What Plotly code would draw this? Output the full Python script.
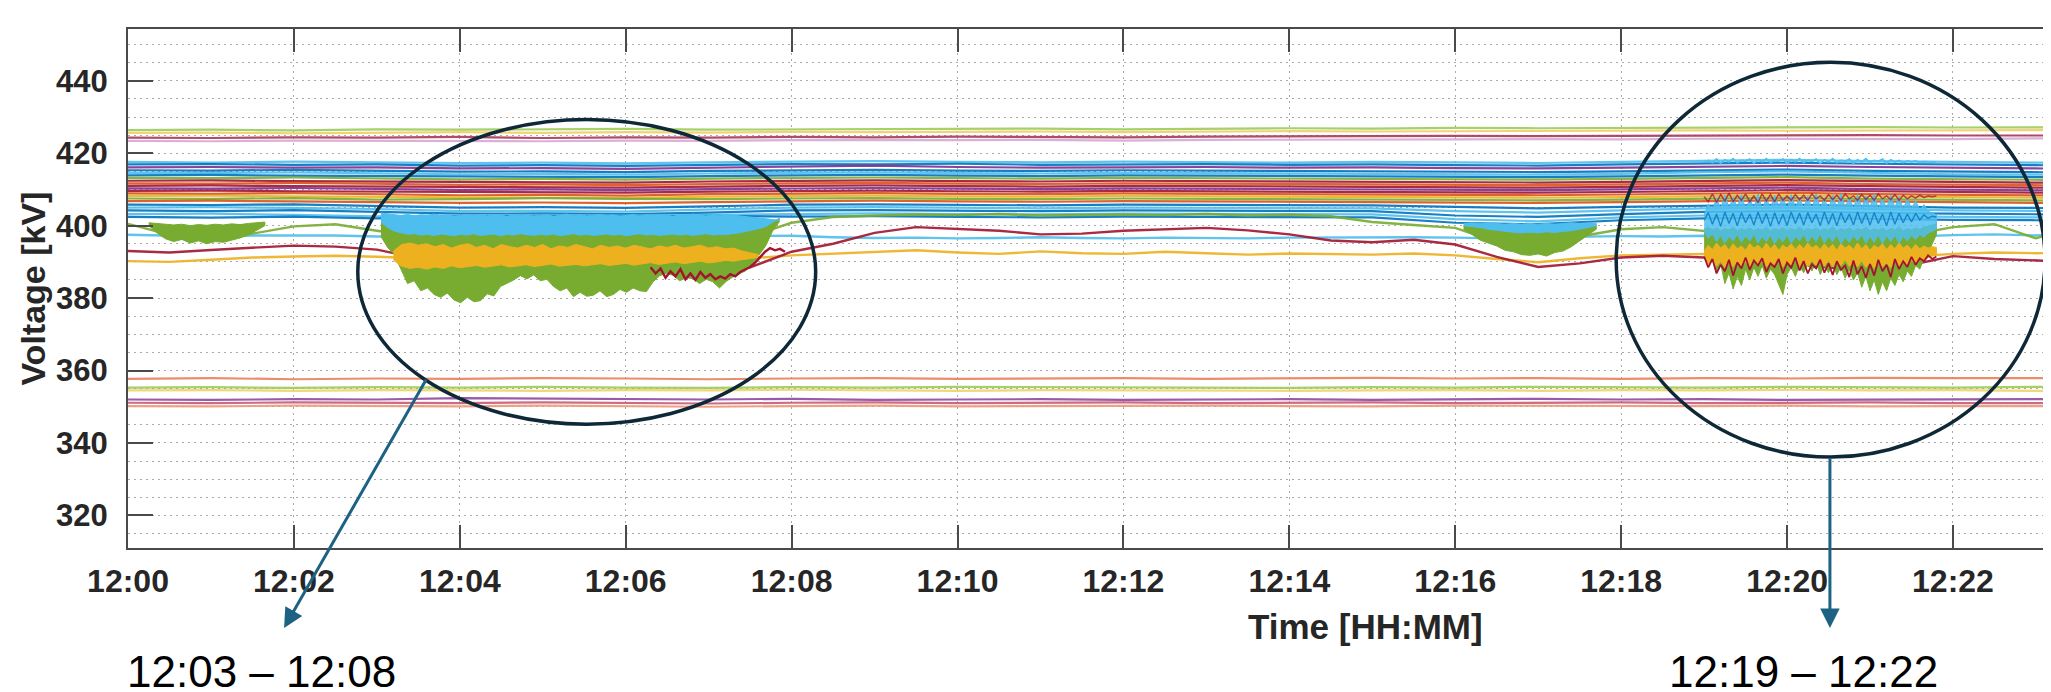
import datetime as dt
import plotly.graph_objects as go

# ---------------- data (minutes after 12:00, kV) ----------------
T1 = list(range(25))                      # 1-minute grid 0..24
T2 = [i * 0.5 for i in range(48)]         # 30-second grid 0..23.5

TOP_GREEN = [426.4,426.5,426.3,426.6,426.5,426.6,426.7,426.5,426.6,426.8,426.7,426.8,426.6,426.8,426.9,426.8,427.0,426.9,427.0,427.1,427.0,427.2,427.1,427.2,427.2]
TOP_YELLOW = [425.6,425.7,425.5,425.7,425.8,425.6,425.8,425.7,425.9,425.8,425.9,426.0,425.8,426.0,426.1,426.0,426.1,426.2,426.1,426.3,426.2,426.3,426.2,426.4,426.3]
TOP_RED = [424.3,424.2,424.4,424.3,424.5,424.2,424.4,424.3,424.5,424.4,424.6,424.5,424.4,424.6,424.7,424.6,424.8,424.7,424.8,424.9,424.8,425.0,424.9,425.0,424.9]
TOP_PINK = [423.4,423.3,423.5,423.4,423.5,423.3,423.5,423.4,423.6,423.5,423.6,423.7,423.5,423.7,423.8,423.7,423.8,423.9,423.8,424.0,423.9,424.0,423.9,424.1,424.0]

BOT_ORANGE_HI = [357.7,357.9,357.6,357.8,357.7,357.9,357.8,357.6,357.8,357.9,357.7,357.8,357.9,357.7,357.8,358.0,357.8,357.9,357.7,357.9,357.8,358.0,357.9,357.8,357.9]
BOT_GREEN = [355.3,355.4,355.2,355.4,355.3,355.5,355.3,355.2,355.4,355.3,355.5,355.4,355.3,355.4,355.2,355.4,355.3,355.5,355.4,355.3,355.5,355.4,355.3,355.5,355.4]
BOT_YELLOW = [354.5,354.6,354.4,354.6,354.5,354.4,354.6,354.5,354.7,354.5,354.4,354.6,354.5,354.6,354.4,354.5,354.6,354.4,354.6,354.5,354.7,354.5,354.6,354.4,354.5]
BOT_PURPLE = [352.0,351.9,352.1,352.0,352.4,352.3,352.1,352.0,352.2,351.9,352.0,352.1,351.9,352.0,352.1,351.9,352.0,352.2,352.0,352.1,351.9,352.0,352.2,352.1,352.0]
BOT_RED = [351.1,351.0,351.2,351.1,351.0,351.2,351.1,350.9,351.1,351.2,351.0,351.1,351.2,351.0,351.1,351.2,351.0,351.1,351.2,351.0,351.1,351.2,351.0,351.1,351.0]
BOT_ORANGE_LO = [350.2,350.1,350.3,350.2,350.1,350.3,350.2,350.0,350.2,350.3,350.1,350.2,350.1,350.3,350.2,350.1,350.3,350.2,350.1,350.2,350.3,350.1,350.2,350.1,350.2]

B01 = [417.6,417.4,417.7,417.5,417.3,417.4,417.2,417.5,417.6,417.8,417.6,417.5,417.7,417.6,417.4,417.6,417.5,417.3,417.6,417.9,418.2,417.8,417.5,417.4,417.3]
B02 = [416.9,417.0,416.8,416.9,416.6,416.7,416.5,416.8,417.0,416.9,417.1,416.8,416.9,417.0,416.8,416.9,416.7,416.6,416.9,417.2,417.4,417.1,416.8,416.7,416.5]
B03 = [416.1,416.2,416.0,416.1,415.8,415.9,415.7,416.0,416.3,416.6,416.2,416.0,416.1,416.2,416.0,416.1,415.9,415.8,416.0,416.3,416.5,416.2,415.9,415.8,415.6]
B04 = [415.3,415.2,415.4,415.1,414.9,415.0,414.8,415.1,415.3,415.4,415.2,415.1,415.3,415.2,415.0,415.1,414.9,414.8,415.0,415.3,415.5,415.1,414.9,414.8,414.6]
B05 = [414.6,414.5,414.7,414.4,414.2,414.3,414.1,414.4,414.6,414.7,414.5,414.4,414.6,414.5,414.3,414.4,414.2,414.1,414.3,414.8,415.0,414.5,414.2,414.1,413.9]
B06 = [413.9,414.0,413.8,413.7,413.5,413.6,413.4,413.7,413.9,414.0,413.8,413.7,413.9,413.8,413.6,413.7,413.5,413.4,413.6,413.9,414.1,413.8,413.5,413.4,413.2]
B07 = [413.2,413.1,413.3,413.0,412.8,412.9,412.7,413.0,413.2,413.3,413.1,413.0,413.2,413.1,412.9,413.0,412.8,412.7,412.9,413.2,413.4,413.0,412.8,412.7,412.5]
B08 = [412.4,412.5,412.3,412.2,412.0,412.1,411.9,412.2,412.4,412.5,412.3,412.2,412.4,412.3,412.1,412.2,412.0,411.9,412.1,412.4,412.6,412.3,412.0,411.9,411.7]
B09 = [411.7,411.6,411.8,411.5,411.3,411.4,411.2,411.5,411.7,411.8,411.6,411.5,411.7,411.6,411.4,411.5,411.3,411.2,411.4,411.7,411.9,411.5,411.3,411.2,411.0]
B10 = [411.0,411.1,410.9,410.8,410.6,410.7,410.5,410.8,411.0,411.1,410.9,410.8,411.0,410.9,410.7,410.8,410.6,410.5,410.7,411.0,411.2,410.9,410.6,410.5,410.3]
B11 = [410.3,410.2,410.4,410.1,409.9,410.0,409.8,410.1,410.3,410.4,410.2,410.1,410.3,410.2,410.0,410.1,409.9,409.8,410.0,410.3,410.5,410.1,409.9,409.8,409.6]
B12 = [409.6,409.7,409.5,409.4,409.2,409.3,409.1,409.4,409.6,409.7,409.5,409.4,409.6,409.5,409.3,409.4,409.2,409.1,409.3,409.6,409.8,409.5,409.2,409.1,408.9]
B13 = [408.9,408.8,409.0,408.7,408.4,408.5,408.3,408.7,408.9,409.0,408.8,408.7,408.9,408.8,408.6,408.7,408.5,408.4,408.6,408.9,409.1,408.7,408.5,408.4,408.2]
B14 = [408.2,408.3,408.1,408.0,407.7,407.8,407.6,408.0,408.2,408.3,408.1,408.0,408.2,408.1,407.9,408.0,407.8,407.7,407.9,408.2,408.4,408.1,407.8,407.7,407.5]
B15 = [407.5,407.4,407.6,407.2,407.3,407.6,407.4,407.3,407.5,407.6,407.4,407.3,407.5,407.4,407.2,407.3,407.1,407.0,407.2,407.5,407.7,407.3,407.1,407.0,406.8]
B16 = [406.8,406.9,406.7,406.5,406.3,406.4,406.2,406.5,406.8,406.9,406.7,406.6,406.8,406.7,406.5,406.6,406.4,406.3,406.5,406.8,407.0,406.7,406.4,406.3,406.1]
B17 = [405.8,405.7,405.9,405.5,405.0,405.1,404.9,405.3,405.8,405.9,405.7,405.6,405.8,405.7,405.5,405.6,405.2,404.8,405.2,405.6,405.8,405.4,405.0,404.9,404.7]
B18 = [405.0,405.1,404.9,404.6,404.0,404.1,403.9,404.4,405.0,405.1,404.9,404.8,405.0,404.9,404.7,404.8,404.0,403.6,404.2,404.8,405.0,404.6,404.2,404.1,403.9]
B19 = [404.2,404.0,404.3,403.8,403.3,403.4,403.2,403.6,404.2,404.3,404.1,404.0,404.2,404.1,403.9,404.0,402.8,402.4,403.2,403.8,404.0,403.5,403.3,403.2,403.0]
B20 = [403.2,403.3,403.0,402.6,402.8,403.0,402.8,403.0,403.3,403.4,403.2,403.1,403.3,403.2,403.0,403.1,401.8,401.2,402.3,402.8,403.0,402.6,402.4,402.3,402.1]
B21 = [402.4,402.2,402.5,402.0,402.6,402.7,402.5,402.7,402.5,402.6,402.4,402.3,402.5,402.4,402.2,402.3,400.8,400.4,401.5,402.0,402.2,401.8,401.6,401.5,401.3]

RED_LOW = [393.0,392.6,393.3,393.9,394.5,394.2,393.4,391.0,
           390.5,390.5,390.0,390.0,389.5,388.0,387.0,388.5,
           392.8,395.0,398.0,399.6,399.2,398.6,397.6,397.8,
           398.6,398.9,399.4,398.7,397.6,395.9,395.4,396.1,
           394.8,391.4,388.6,389.6,391.2,391.7,391.2,388.6,
           389.4,388.4,387.6,389.2,391.6,390.8,390.3,390.0]
YELLOW_LOW = [390.2,390.0,390.6,391.2,391.5,391.7,391.4,391.0,
              391.0,391.0,391.0,391.0,391.0,391.0,391.0,391.0,
              391.8,392.2,392.6,393.2,392.6,392.2,392.9,392.4,
              392.2,392.8,392.4,392.0,392.3,392.2,392.0,392.3,
              391.8,390.8,389.9,391.0,391.8,392.0,392.2,391.5,
              391.0,391.5,391.0,391.5,392.2,392.6,392.4,392.5]
CYAN_LOW = [397.5,397.2,397.0,397.3,397.4,397.3,397.0,397.0,
            397.0,397.0,397.0,397.0,397.0,397.0,397.0,397.0,
            397.2,396.8,396.6,396.7,396.5,396.6,396.8,396.6,
            396.5,396.7,396.6,396.5,396.7,396.8,396.9,396.8,
            396.7,396.5,396.8,397.0,397.1,397.0,397.2,397.0,
            397.0,397.0,397.0,397.0,397.4,397.6,397.3,397.5]
GREEN_LOW = [400.5,397.5,396.5,397.8,399.8,400.4,398.6,397.0,
             397.0,397.0,397.0,397.0,397.0,397.0,397.0,397.0,
             400.8,402.4,402.8,403.1,402.9,403.2,402.8,403.0,
             403.1,402.9,403.2,402.8,403.0,402.6,401.0,400.2,
             399.4,395.5,393.5,397.0,399.0,399.6,398.6,397.5,
             397.5,397.5,397.5,397.5,399.6,400.4,396.5,399.8]

# green lobe before the first event (0.25 .. 1.65 min, 0.1 min step)
PRE_T0, PRE_DT = 0.25, 0.1
PRE_G_HI = [400.8,400.6,400.4,400.2,400.4,400.0,400.3,400.1,400.4,400.2,400.5,400.3,400.6,400.8,401.0]
PRE_G_LO = [400.0,398.0,396.4,395.6,396.2,395.2,395.8,395.0,395.6,395.4,396.0,396.6,397.4,398.6,400.0]

# event 1 (12:03 - 12:08), 0.08 min step from 3.05
E1_T0, E1_DT = 3.05, 0.08
E1_GREEN_LO = [397.0,394.0,392.0,388.0,384.0,384.8,382.0,382.8,381.0,380.2,
               381.4,379.5,378.7,380.2,379.0,379.3,381.2,380.6,383.2,384.0,
               385.0,386.2,385.3,386.4,384.8,385.2,383.2,382.0,382.8,380.4,
               381.6,380.5,380.8,382.0,380.4,381.0,382.4,381.6,382.8,382.0,
               381.8,384.5,386.2,386.8,386.3,384.8,385.6,385.4,384.0,385.2,
               384.5,382.8,384.6,385.8,386.8,387.6,389.5,392.0,394.5,398.5,
               401.0]
E1_GREEN_HI = [401.0,399.5,398.5,398.0,397.6,397.8,397.4,397.6,397.3,397.7,
               397.5,397.2,397.6,397.4,397.8,397.3,397.5,397.7,397.2,397.6,
               397.4,397.8,397.5,397.3,397.6,397.4,397.7,397.2,397.5,397.8,
               397.4,397.6,397.3,397.5,397.7,397.4,397.6,397.2,397.5,397.8,
               397.4,397.6,397.3,397.5,397.7,397.4,397.6,397.3,397.5,397.8,
               397.4,397.6,397.5,397.8,398.0,398.3,398.8,399.2,399.8,401.0,
               402.0]
E1_CYAN_HI = [403.5,403.2,403.0,402.8,403.1,402.7,403.0,402.9,403.2,402.8,
              403.0,402.6,402.9,403.1,402.8,403.0,402.7,403.1,402.9,402.6,
              403.0,402.8,403.1,402.7,402.9,403.0,402.6,402.9,403.2,402.8,
              403.0,402.7,402.9,403.1,402.8,403.0,402.6,402.9,403.1,402.7,
              403.0,402.8,403.1,402.9,402.6,403.0,402.8,403.2,402.9,402.7,
              403.0,402.8,403.1,402.9,402.7,402.5,402.3,402.0,401.8,401.5,
              401.5]
E1_Y_T0, E1_Y_DT = 3.2, 0.1
E1_YEL_HI = [393.0,394.8,395.2,394.6,395.0,394.2,394.8,393.8,394.6,395.0,
             394.0,394.6,393.6,394.8,394.2,393.8,394.6,394.0,394.8,393.6,
             394.4,394.0,394.8,394.2,393.6,394.6,394.0,394.4,393.8,394.6,
             394.2,393.6,394.4,394.0,394.6,393.8,394.2,394.6,393.8,394.2,
             393.6,393.8,393.0,392.4,392.0]
E1_YEL_LO = [390.5,388.8,388.2,388.5,388.0,388.6,388.2,388.9,388.4,388.7,
             389.0,388.5,388.8,389.2,388.6,388.9,389.2,388.7,389.0,389.4,
             388.8,389.1,389.3,388.9,389.2,389.5,389.0,389.3,389.6,389.1,
             389.4,389.8,389.3,389.6,390.0,389.5,389.8,390.2,389.7,390.0,
             390.4,390.2,390.6,391.0,391.2]
E1_R_T0, E1_R_DT = 6.3, 0.06
E1_RED = [388.5,386.8,388.2,385.6,387.4,386.0,388.0,385.2,386.8,385.0,
          387.2,385.6,386.6,385.2,386.0,385.4,386.6,386.0,387.2,387.8,
          388.6,389.8,391.2,392.8,393.8,393.2,393.6,392.8]

# event 2a (12:16 - 12:17:40), 0.1 min step from 16.1
E2A_T0, E2A_DT = 16.1, 0.1
E2A_GREEN_HI = [400.0,399.8,399.5,399.0,398.6,398.4,398.2,398.0,398.2,398.0,398.3,398.1,398.4,398.6,399.0,399.5,400.0]
E2A_GREEN_LO = [399.0,397.6,396.0,395.2,394.4,393.2,392.8,392.0,391.8,392.2,391.6,392.6,393.0,394.2,395.6,397.4,399.0]
E2A_CYAN_HI = [400.6,400.8,400.6,400.8,400.6,400.4,400.6,400.4,400.6,400.4,400.6,400.4,400.6,400.8,400.6,400.8,400.6]

# event 2b (12:19 - 12:22), 0.05 min step from 19.0
E2B_T0, E2B_DT = 19.0, 0.05
E2B_GREEN_LO = [393.5,390.0,391.5,387.5,389.5,384.0,387.0,382.5,386.0,383.5,
                388.0,385.0,388.5,386.0,389.0,385.5,388.0,386.5,384.0,381.0,
                386.5,388.5,386.0,389.0,387.0,389.5,387.5,390.0,386.5,389.0,
                387.0,389.5,386.5,388.5,385.5,388.0,385.0,387.0,383.0,386.0,
                382.0,385.0,381.0,384.5,382.0,385.5,383.5,386.5,384.5,387.5,
                386.0,389.0,388.0,391.0,392.5,395.0,397.5]
E2B_GREEN_HI = [399.0,399.6,398.8,399.4,398.6,399.2,398.8,399.6,398.6,399.2,
                398.8,399.4,398.6,399.2,398.8,399.6,398.6,399.2,398.8,399.4,
                398.6,399.2,398.8,399.6,398.6,399.2,398.8,399.4,398.6,399.2,
                398.8,399.6,398.6,399.2,398.8,399.4,398.6,399.2,398.8,399.6,
                398.6,399.2,398.8,399.4,398.6,399.2,398.8,399.6,398.6,399.2,
                398.8,399.4,399.0,399.6,399.8,400.2,400.5]
E2B_YEL_HI = [393.0,394.6,393.4,395.2,393.8,394.8,393.2,395.0,393.6,394.4,
              393.2,395.0,393.8,394.6,393.4,395.2,393.6,394.8,393.2,394.6,
              393.8,395.0,393.4,394.8,393.6,395.2,393.8,394.6,393.4,395.0,
              393.6,394.8,393.2,395.0,393.8,394.6,393.4,395.2,393.6,394.8,
              393.2,394.6,393.8,395.0,393.4,394.8,393.6,395.2,393.8,394.6,
              393.4,394.8,393.6,394.4,393.8,394.2,394.0]
E2B_YEL_LO = [391.0,389.4,390.6,388.8,390.2,388.4,389.8,388.6,390.4,388.8,
              390.0,388.6,390.4,389.0,390.2,388.6,389.8,388.8,390.4,388.6,
              390.0,389.0,390.6,388.8,390.2,388.6,390.4,389.0,390.0,388.8,
              390.4,388.6,390.2,389.0,390.6,388.8,390.0,388.6,390.4,388.4,
              389.8,388.2,390.0,388.6,389.6,388.4,390.2,388.8,390.0,389.0,
              390.4,389.4,390.8,390.2,391.2,391.6,392.0]
E2B_RED = [391.5,388.5,390.8,386.8,389.2,387.4,390.6,386.2,389.8,388.2,
           391.2,387.8,390.4,389.0,391.0,387.2,389.6,388.6,390.8,386.8,
           389.8,388.4,391.2,387.6,390.2,386.8,389.4,388.2,390.6,387.0,
           389.6,386.4,390.2,387.8,389.0,385.8,390.4,386.6,388.8,385.6,
           389.4,386.2,390.6,387.4,389.2,385.8,390.8,388.0,390.2,388.6,
           391.4,389.2,391.0,390.2,391.8,390.8,391.5]
E2B_CYAN_HI = [403.0,406.0,404.2,407.6,404.6,408.4,404.8,407.8,405.0,408.6,
               404.6,407.4,405.0,408.8,404.4,407.6,404.8,408.4,405.2,407.8,
               404.6,408.6,405.0,407.6,404.8,408.2,404.4,408.8,405.0,407.4,
               404.6,408.4,404.8,408.8,405.0,407.8,404.6,408.6,404.8,408.2,
               405.0,408.8,404.6,407.6,404.8,408.4,405.0,408.0,404.6,407.4,
               404.8,406.8,404.4,405.8,404.0,403.6,403.0]
E2B_CYAN_LO = [398.5,396.5,397.8,395.6,397.4,395.2,397.0,395.8,397.6,395.4,
               397.2,395.8,397.6,395.2,397.0,395.6,397.4,395.0,396.8,395.6,
               397.4,395.2,397.0,395.8,397.6,395.4,397.2,395.6,397.8,395.2,
               397.0,395.6,397.4,395.0,396.8,395.4,397.2,395.8,397.6,395.2,
               397.0,395.4,397.6,395.0,397.2,395.6,397.4,395.2,397.0,395.8,
               397.4,396.2,397.6,396.8,398.0,398.4,399.0]
E2B_BLUE = [401.5,403.6,400.4,403.2,399.8,403.8,400.6,403.4,400.0,403.6,
            400.8,403.2,400.2,403.8,400.6,403.4,399.8,403.6,400.4,403.2,
            400.0,403.8,400.6,403.4,400.2,403.6,400.8,403.2,400.0,403.8,
            400.4,403.4,400.0,403.6,400.8,403.2,400.2,403.8,400.6,403.4,
            400.2,403.6,400.6,403.2,400.0,403.8,400.4,403.4,400.8,403.2,
            401.0,403.4,401.6,403.0,402.0,402.6,402.4]
E2B_TOP = [417.6,418.0,417.4,418.4,417.2,418.2,417.6,418.5,417.4,418.0,
           417.8,418.4,417.2,418.2,417.6,418.5,417.4,418.0,417.8,418.4,
           417.2,418.2,417.6,418.5,417.4,418.0,417.8,418.4,417.2,418.2,
           417.6,418.5,417.4,418.0,417.8,418.4,417.2,418.2,417.6,418.5,
           417.4,418.0,417.8,418.4,417.2,418.2,417.6,418.0,417.4,417.9,
           417.6,417.9,417.4,417.7,417.6,417.6,417.5]
E2B_PURPLE = [408.0,406.6,408.8,406.4,408.6,406.8,409.0,406.6,408.4,407.0,
              408.8,406.6,408.2,406.4,408.8,406.8,408.6,406.6,408.8,407.0,
              408.2,407.0,408.6,407.2,408.4,407.0,408.8,407.4,408.2,407.0,
              408.6,407.2,408.4,407.0,408.8,407.4,408.2,407.0,408.6,407.2,
              408.4,407.0,408.8,407.4,408.2,407.2,408.6,407.0,408.4,407.4,
              408.2,407.6,408.4,407.8,408.2,408.0,408.2]

X_TICK_STEP_MIN = 2
Y_RANGE = [311.0, 454.3]
X_END_MIN = 23.23

# ---------------- helpers ----------------
BASE = dt.datetime(2024, 1, 1, 12, 0, 0)


def at(m):
    return BASE + dt.timedelta(minutes=m)


def times(ms):
    return [at(m) for m in ms]


def grid(t0, step, n):
    return [t0 + step * i for i in range(n)]


BLUE = "#0072BD"; ORANGE = "#D95319"; YELLOW = "#EDB120"; PURPLE = "#7E2F8E"
GREEN = "#77AC30"; CYAN = "#4DBEEE"; DRED = "#A2142F"

fig = go.Figure()


def line(tm, vals, color, width=2.2, opacity=0.9):
    fig.add_trace(go.Scatter(x=times(tm), y=vals, mode="lines",
                             line=dict(color=color, width=width),
                             opacity=opacity, hoverinfo="skip"))


def band(tm, hi, lo, color, fill=None):
    xs = times(tm)
    fig.add_trace(go.Scatter(x=xs + xs[::-1], y=list(hi) + list(lo)[::-1],
                             mode="lines", fill="toself", fillcolor=fill or color,
                             line=dict(color=color, width=1),
                             hoverinfo="skip"))


# top and bottom groups
line(T1, TOP_GREEN, "#9CCB5A"); line(T1, TOP_YELLOW, "#F0CF66")
line(T1, TOP_RED, "#A8385A"); line(T1, TOP_PINK, "#D8A8D2")
line(T1, BOT_ORANGE_HI, "#E8825A"); line(T1, BOT_GREEN, "#9CCB5A")
line(T1, BOT_YELLOW, "#EFD36A"); line(T1, BOT_PURPLE, "#8E4A9E")
line(T1, BOT_RED, "#C85A78"); line(T1, BOT_ORANGE_LO, "#EE9A78")

# dense band
for vals, col in [(B01, CYAN), (B02, BLUE), (B03, PURPLE), (B04, BLUE), (B05, CYAN),
                  (B06, BLUE), (B07, GREEN), (B08, DRED), (B09, ORANGE), (B10, DRED),
                  (B11, PURPLE), (B12, DRED), (B13, ORANGE), (B14, YELLOW), (B15, GREEN),
                  (B16, ORANGE), (B17, BLUE), (B18, CYAN), (B19, BLUE), (B20, CYAN), (B21, BLUE)]:
    line(T1, vals, col)

# lower lines
line(T2, YELLOW_LOW, YELLOW, 2.4)
line(T2, CYAN_LOW, CYAN, 2.4)
line(T2, RED_LOW, DRED, 2.4)
line(T2, GREEN_LOW, GREEN, 2.4)

band(grid(PRE_T0, PRE_DT, len(PRE_G_HI)), PRE_G_HI, PRE_G_LO, GREEN)

# event 1
e1t = grid(E1_T0, E1_DT, len(E1_GREEN_LO))
band(e1t, E1_GREEN_HI, E1_GREEN_LO, GREEN)
band(grid(E1_Y_T0, E1_Y_DT, len(E1_YEL_HI)), E1_YEL_HI, E1_YEL_LO, YELLOW)
band(e1t, E1_CYAN_HI, E1_GREEN_HI, CYAN)
line(grid(E1_R_T0, E1_R_DT, len(E1_RED)), E1_RED, DRED, 2.4, 1.0)

# event 2a
e2at = grid(E2A_T0, E2A_DT, len(E2A_GREEN_HI))
band(e2at, E2A_GREEN_HI, E2A_GREEN_LO, GREEN)
band(e2at, E2A_CYAN_HI, E2A_GREEN_HI, CYAN)

# event 2b
e2bt = grid(E2B_T0, E2B_DT, len(E2B_GREEN_LO))
band(e2bt, E2B_GREEN_HI, E2B_GREEN_LO, GREEN)
band(e2bt, E2B_YEL_HI, E2B_YEL_LO, YELLOW)
line(e2bt, E2B_RED, DRED, 1.8, 1.0)
band(e2bt, E2B_CYAN_HI, E2B_CYAN_LO, CYAN, "rgba(77,190,238,0.85)")
line(e2bt, E2B_BLUE, BLUE, 1.4, 0.75)
line(e2bt, E2B_PURPLE, DRED, 1.5, 0.75)
line(e2bt, E2B_TOP, CYAN, 1.8, 1.0)

# ---------------- layout ----------------
AX = "#4a4a4a"
TXT = "#262626"
GRID = "#a9a9a9"

fig.update_layout(
    width=2051, height=692,
    margin=dict(l=120, r=4, t=21, b=152),
    plot_bgcolor="white", paper_bgcolor="white", showlegend=False,
    xaxis=dict(type="date", range=[at(0), at(X_END_MIN)], tickformat="%H:%M",
               tick0=at(0), dtick=X_TICK_STEP_MIN * 60000,
               ticks="inside", ticklen=23, tickwidth=2, tickcolor=AX,
               showline=True, linecolor=AX, linewidth=2, mirror="ticks",
               showgrid=True, gridcolor=GRID, griddash="2px,4px", gridwidth=1,
               zeroline=False, ticklabelstandoff=4,
               tickfont=dict(family="Liberation Sans", size=32, color=TXT, weight="bold")),
    yaxis=dict(range=Y_RANGE, tick0=0, dtick=20,
               ticks="inside", ticklen=25, tickwidth=2, tickcolor=AX,
               showline=True, linecolor=AX, linewidth=2, mirror=False,
               showgrid=True, gridcolor=GRID, griddash="2px,4px", gridwidth=1,
               minor=dict(dtick=5, showgrid=True, gridcolor=GRID,
                          griddash="2px,4px", gridwidth=1, ticks=""),
               zeroline=False, ticklabelstandoff=12,
               tickfont=dict(family="Liberation Sans", size=31, color=TXT, weight="bold")),
)

ELL = "#0f2838"
fig.add_shape(type="circle", xref="x", yref="y", x0=at(2.77), x1=at(8.29),
              y0=345.2, y1=429.3, line=dict(color=ELL, width=3.5), layer="above")
fig.add_shape(type="circle", xref="x", yref="y", x0=at(17.94), x1=at(23.11),
              y0=336.1, y1=445.1, line=dict(color=ELL, width=3.5), layer="above")
fig.add_shape(type="line", xref="paper", yref="paper", x0=1, x1=1, y0=0, y1=1,
              line=dict(color="#cfcfcf", width=2))

ARROW = "#1d6283"
fig.add_annotation(x=0.0810, y=-0.1541, xref="paper", yref="paper", text="",
                   showarrow=True, ax=143, ay=-250, arrowhead=2, arrowsize=1.3,
                   arrowwidth=3, arrowcolor=ARROW, standoff=0)
fig.add_annotation(x=0.8832, y=-0.1541, xref="paper", yref="paper", text="",
                   showarrow=True, ax=0, ay=-171, arrowhead=2, arrowsize=1.3,
                   arrowwidth=3, arrowcolor=ARROW, standoff=0)

LBL = dict(family="Liberation Sans", size=44, color="black")
fig.add_annotation(x=0.0695, y=-0.237, xref="paper", yref="paper", text="12:03 – 12:08",
                   showarrow=False, font=LBL, xanchor="center", yanchor="middle")
fig.add_annotation(x=0.8697, y=-0.237, xref="paper", yref="paper", text="12:19 – 12:22",
                   showarrow=False, font=LBL, xanchor="center", yanchor="middle")

fig.add_annotation(x=0.6424, y=-0.1503, xref="paper", yref="paper", text="Time [HH:MM]",
                   showarrow=False, font=dict(family="Liberation Sans", size=35, color=TXT, weight="bold"),
                   xanchor="center", yanchor="middle")
fig.add_annotation(x=-0.0498, y=0.5, xref="paper", yref="paper", text="Voltage [kV]",
                   textangle=-90, showarrow=False,
                   font=dict(family="Liberation Sans", size=34, color=TXT, weight="bold"),
                   xanchor="center", yanchor="middle")

fig.write_html("out.html")
